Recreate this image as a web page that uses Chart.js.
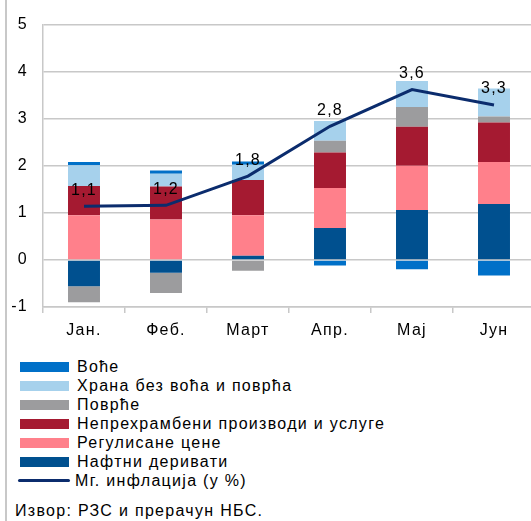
<!DOCTYPE html>
<html>
<head>
<meta charset="utf-8">
<script src="https://cdn.jsdelivr.net/npm/chart.js@4.4.0/dist/chart.umd.min.js"></script>
<style>
	html, body { margin: 0; padding: 0; background: #fff; overflow: hidden; }
	body { width: 531px; height: 521px; position: relative; font-family: "Liberation Sans", Arial, sans-serif; color: #000; }
	#frame { position: absolute; left: 5px; top: 0; width: 0; height: 521px; border-left: 2px solid #c8c8c8; }
	#wrap { position: absolute; left: 0; top: 0; width: 540px; height: 345px; }
	#legend { position: absolute; left: 20px; top: 357px; font-size: 16px; letter-spacing: 1.3px; }
	.item { height: 19px; display: flex; align-items: center; white-space: nowrap; }
	.box { width: 49px; height: 10px; margin-right: 8px; }
	.ln { width: 52px; height: 3px; margin-right: 5px; margin-left: -2px; border-radius: 2px; }
	#source { position: absolute; left: 15px; top: 502px; font-size: 16px; letter-spacing: 1.3px; white-space: nowrap; }
</style>
</head>
<body>
<div id="frame"></div>
<div id="wrap"><canvas id="chart" width="540" height="345"></canvas></div>
<div id="legend"></div>
<div id="source">Извор: РЗС и прерачун НБС.</div>
<script>
(function() {
	'use strict';

	const months = ['Јан.', 'Феб.', 'Март', 'Апр.', 'Мај', 'Јун'];

	// contributions, p.p.
	const oil = [-0.56, -0.27, 0.09, 0.68, 1.06, 1.19];
	const regulated = [0.95, 0.86, 0.86, 0.85, 0.94, 0.89];
	const nonFood = [0.62, 0.70, 0.75, 0.75, 0.83, 0.84];
	const vegetables = [-0.34, -0.43, -0.23, 0.25, 0.42, 0.13];
	const foodExFruitVeg = [0.44, 0.27, 0.32, 0.42, 0.55, 0.59];
	const fruit = [0.07, 0.07, 0.07, -0.12, -0.20, -0.33];
	const inflation = [1.14, 1.16, 1.78, 2.84, 3.62, 3.29];

	const yTicks = [-1, 0, 1, 2, 3, 4, 5];

	const barSeries = [
		{ label: 'Нафтни деривати', data: oil, color: '#00508f' },
		{ label: 'Регулисане цене', data: regulated, color: '#ff808b' },
		{ label: 'Непрехрамбени производи и услуге', data: nonFood, color: '#a51a31' },
		{ label: 'Поврће', data: vegetables, color: '#9c9c9e' },
		{ label: 'Храна без воћа и поврћа', data: foodExFruitVeg, color: '#a6d1ec' },
		{ label: 'Воће', data: fruit, color: '#0070c8' }
	];
	const lineLabel = 'Мг. инфлација (у %)';
	const lineColor = '#0b2c6d';
	const gridColor = '#c8c8c8';
	const font = { family: '"Liberation Sans", Arial, sans-serif', size: 16 };

	const datasets = [{
		type: 'line',
		label: lineLabel,
		data: inflation,
		borderColor: lineColor,
		borderWidth: 3,
		pointRadius: 0,
		tension: 0,
		stack: 'line'
	}];
	barSeries.forEach(s => {
		datasets.push({
			type: 'bar',
			label: s.label,
			data: s.data,
			backgroundColor: s.color,
			borderWidth: 0,
			stack: 'bars',
			categoryPercentage: 1,
			barPercentage: 0.39
		});
	});

	const spacing = {
		id: 'spacing',
		beforeInit(chart) { chart.ctx.letterSpacing = '1.3px'; },
		beforeDraw(chart) { chart.ctx.letterSpacing = '1.3px'; }
	};

	const lineLabels = {
		id: 'lineLabels',
		afterDatasetsDraw(chart) {
			const ctx = chart.ctx;
			const meta = chart.getDatasetMeta(0);
			ctx.save();
			ctx.font = font.size + 'px ' + font.family;
			ctx.fillStyle = '#000';
			ctx.textAlign = 'center';
			ctx.textBaseline = 'middle';
			meta.data.forEach((pt, i) => {
				ctx.fillText(inflation[i].toFixed(1).replace('.', ','), pt.x, pt.y - 16);
			});
			ctx.restore();
		}
	};

	new Chart(document.getElementById('chart').getContext('2d'), {
		type: 'bar',
		data: { labels: months, datasets },
		options: {
			responsive: false,
			animation: false,
			layout: { padding: { top: 24, right: 5, left: 0, bottom: 0 } },
			plugins: { legend: { display: false }, tooltip: { enabled: false } },
			scales: {
				x: {
					stacked: true,
					grid: { drawOnChartArea: false, drawTicks: true, tickLength: 6, color: gridColor, lineWidth: 1.5, offset: true },
					border: { display: true, color: gridColor, width: 1.5 },
					ticks: { color: '#000', font, padding: 8, maxRotation: 0 },
					afterFit: s => { s.height = 38; }
				},
				y: {
					stacked: true,
					min: -1,
					max: 5,
					afterBuildTicks: s => { s.ticks = yTicks.map(v => ({ value: v })); },
					grid: { color: gridColor, lineWidth: 1.5, drawTicks: false },
					border: { display: true, color: gridColor, width: 1.5 },
					ticks: { color: '#000', font, padding: 15 },
					afterFit: s => { s.width = 43; }
				}
			}
		},
		plugins: [spacing, lineLabels]
	});

	const legend = document.getElementById('legend');
	barSeries.slice().reverse().forEach(s => {
		const row = document.createElement('div');
		row.className = 'item';
		row.innerHTML = '<span class="box" style="background:' + s.color + '"></span><span>' + s.label + '</span>';
		legend.appendChild(row);
	});
	const lr = document.createElement('div');
	lr.className = 'item';
	lr.innerHTML = '<span class="ln" style="background:' + lineColor + '"></span><span>' + lineLabel + '</span>';
	legend.appendChild(lr);
})();
</script>
</body>
</html>
